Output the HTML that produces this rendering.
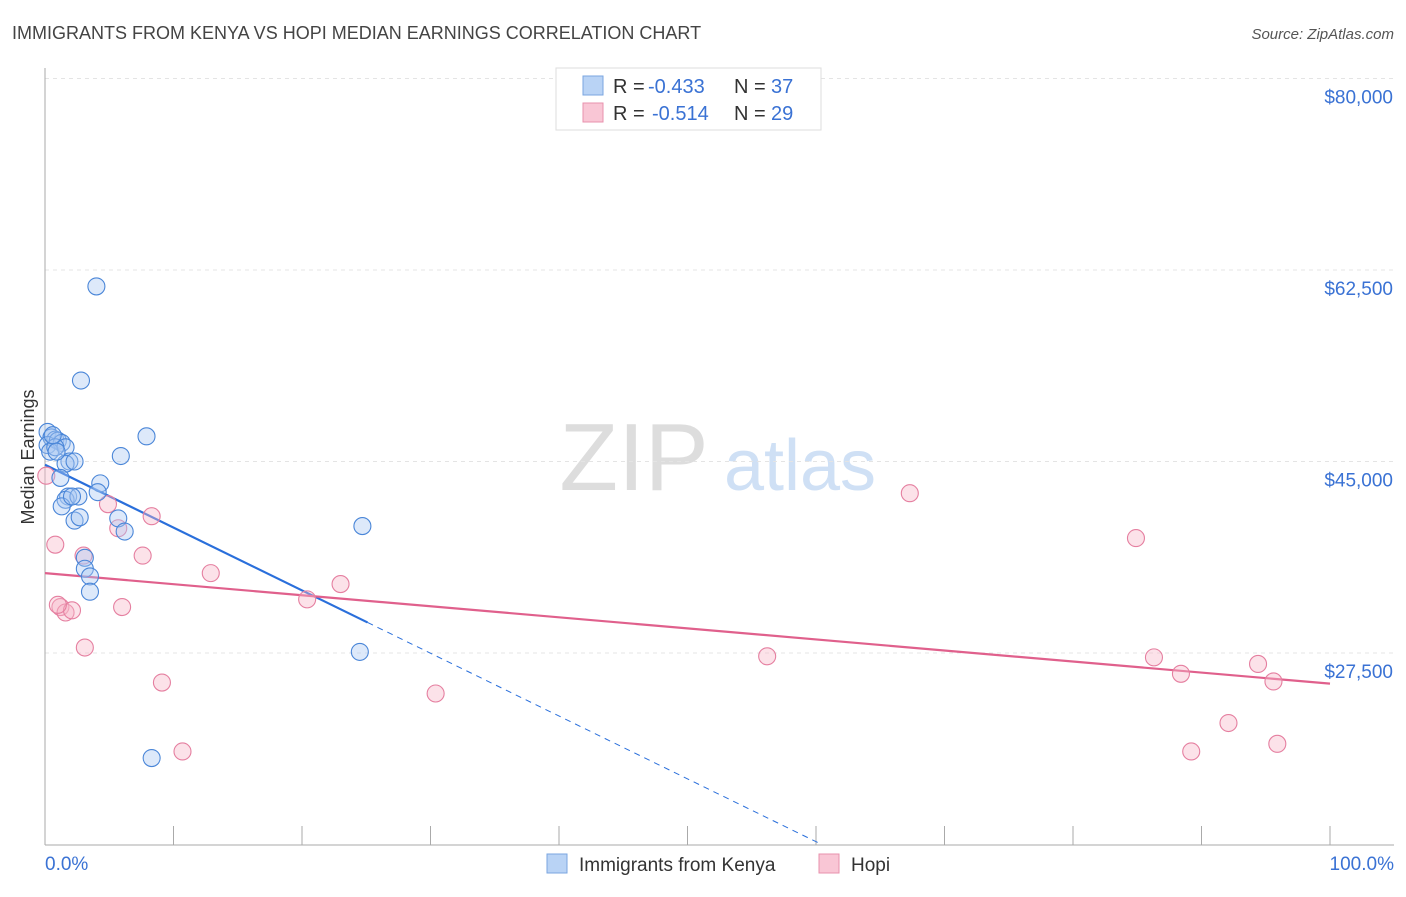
<!DOCTYPE html>
<html><head><meta charset="utf-8"><style>
body{margin:0;background:#fff;font-family:"Liberation Sans",sans-serif;}
svg text{font-family:"Liberation Sans",sans-serif;}
</style></head><body>
<svg id="chart" width="1406" height="892">
<text x="12" y="39" font-size="18" fill="#444">IMMIGRANTS FROM KENYA VS HOPI MEDIAN EARNINGS CORRELATION CHART</text>
<text x="1394" y="39" font-size="15" fill="#555" font-style="italic" text-anchor="end">Source: ZipAtlas.com</text>
<text x="34" y="457" font-size="18" fill="#333" text-anchor="middle" transform="rotate(-90 34 457)">Median Earnings</text>
<text x="634" y="490" font-size="96" fill="#ddd" text-anchor="middle" font-family="Liberation Serif">ZIP</text>
<text x="800" y="490" font-size="72" fill="#cfe0f5" text-anchor="middle">atlas</text>
<g id="grid"></g><g id="axes"></g><g id="trends"></g><g id="points"></g>
<g>
<rect x="556" y="68" width="265" height="62" fill="#fff" stroke="#ddd"/>
<rect x="583" y="76" width="20" height="19" fill="#b9d3f5" stroke="#7aa6e0"/>
<text x="613" y="93" font-size="20" fill="#333">R =</text>
<text x="648" y="93" font-size="20" fill="#3a72d4">-0.433</text>
<text x="734" y="93" font-size="20" fill="#333">N =</text>
<text x="771" y="93" font-size="20" fill="#3a72d4">37</text>
<rect x="583" y="103" width="20" height="19" fill="#f9c6d5" stroke="#e891ad"/>
<text x="613" y="120" font-size="20" fill="#333">R =</text>
<text x="652" y="120" font-size="20" fill="#3a72d4">-0.514</text>
<text x="734" y="120" font-size="20" fill="#333">N =</text>
<text x="771" y="120" font-size="20" fill="#3a72d4">29</text>
</g>
<g>
<rect x="547" y="854" width="20" height="19" fill="#b9d3f5" stroke="#7aa6e0"/>
<text x="579" y="871" font-size="19" fill="#333">Immigrants from Kenya</text>
<rect x="819" y="854" width="20" height="19" fill="#f9c6d5" stroke="#e891ad"/>
<text x="851" y="871" font-size="19" fill="#333">Hopi</text>
</g>
</svg>
<script>
const yTicks=[27500,45000,62500,80000];
const yTickLabels=["$27,500","$45,000","$62,500","$80,000"];
const xTickLabels=["0.0%","100.0%"];
const kenyaX=[0.2,0.5,0.8,0.2,1.0,1.3,0.4,1.6,1.9,1.6,2.3,1.2,1.8,1.6,2.6,1.3,2.3,2.7,4.3,4.1,5.7,6.2,3.1,3.1,3.5,3.5,4.0,2.8,5.9,7.9,24.7,24.5,8.3,0.8,0.6,2.1,0.9];
const kenyaY=[47.7,47.2,47.0,46.5,46.9,46.7,45.9,46.3,45.0,44.8,45.0,43.5,41.8,41.5,41.8,40.9,39.6,39.9,43.0,42.2,39.8,38.6,36.2,35.2,34.5,33.1,61.0,52.4,45.5,47.3,39.1,27.6,17.9,46.3,47.4,41.8,45.9];
const hopiX=[0.1,0.8,1.2,1.6,2.1,3.0,3.1,4.9,5.7,6.0,7.6,8.3,9.1,10.7,12.9,20.4,23.0,30.4,56.2,67.3,84.9,86.3,88.4,89.2,92.1,94.4,95.6,95.9,1.0];
const hopiY=[43.7,37.4,31.7,31.2,31.4,36.4,28.0,41.1,38.9,31.7,36.4,40.0,24.8,18.5,34.8,32.4,33.8,23.8,27.2,42.1,38.0,27.1,25.6,18.5,21.1,26.5,24.9,19.2,31.9];
const kenyaTrend=[44.7,-0.574];
const hopiTrend=[34.8,24.7];
const NS="http://www.w3.org/2000/svg";
const X0=45,X1=1330,YB=845;
const sx=p=>X0+p*(X1-X0)/100;
const sy=v=>653-(v*1000-27500)*191.5/17500;
function mk(t,a,p){const e=document.createElementNS(NS,t);for(const k in a)e.setAttribute(k,a[k]);document.getElementById(p).appendChild(e);return e;}
yTicks.forEach((v,i)=>{
 const l=mk('line',{x1:X0,x2:1394,y1:sy(v/1000),y2:sy(v/1000),stroke:'#e4e4e4','stroke-dasharray':'4,4'},'grid');
 
 
 const t=mk('text',{x:1393,y:sy(v/1000)+25,'font-size':19,fill:'#3a72d4','text-anchor':'end'},'grid');
 t.textContent=yTickLabels[i];
 
 
});
mk('line',{x1:X0,x2:X0,y1:68,y2:YB,stroke:'#aaa'},'axes');
mk('line',{x1:X0,x2:1394,y1:YB,y2:YB,stroke:'#aaa'},'axes');
for(let i=0;i<=10;i++){const tk=mk('line',{x1:sx(i*10),x2:sx(i*10),y1:826,y2:YB,stroke:'#aaa'},'axes');
 
 }
[[0,'start',45],[1,'end',1394]].forEach(([i,a,x])=>{const t=mk('text',{x:x,y:870,'font-size':19,fill:'#3a72d4','text-anchor':a},'axes');t.textContent=xTickLabels[i];
 
 });
function pts(xs,ys,fill,stroke,name){xs.forEach((x,i)=>{const c=mk('circle',{cx:sx(x),cy:sy(ys[i]),r:8.5,fill:fill,'fill-opacity':0.4,stroke:stroke,'stroke-width':1.1},'points');
 
 });}
pts(hopiX,hopiY,'#f7b6c9','#e57fa0','hopi-point');
pts(kenyaX,kenyaY,'#a9c8f2','#4a86d8','kenya-point');
const kEnd=(10-kenyaTrend[0])/kenyaTrend[1];
const kl=mk('line',{x1:sx(0),y1:sy(kenyaTrend[0]),x2:sx(25.1),y2:sy(kenyaTrend[0]+kenyaTrend[1]*25.1),stroke:'#2a6fdb','stroke-width':2.2},'trends');


const kd=mk('line',{x1:sx(25.1),y1:sy(kenyaTrend[0]+kenyaTrend[1]*25.1),x2:sx(kEnd),y2:sy(10),stroke:'#2a6fdb','stroke-width':1,'stroke-dasharray':'6,5'},'trends');


const hl=mk('line',{x1:sx(0),y1:sy(hopiTrend[0]),x2:sx(100),y2:sy(hopiTrend[1]),stroke:'#e0608c','stroke-width':2.2},'trends');


</script>
</body></html>
